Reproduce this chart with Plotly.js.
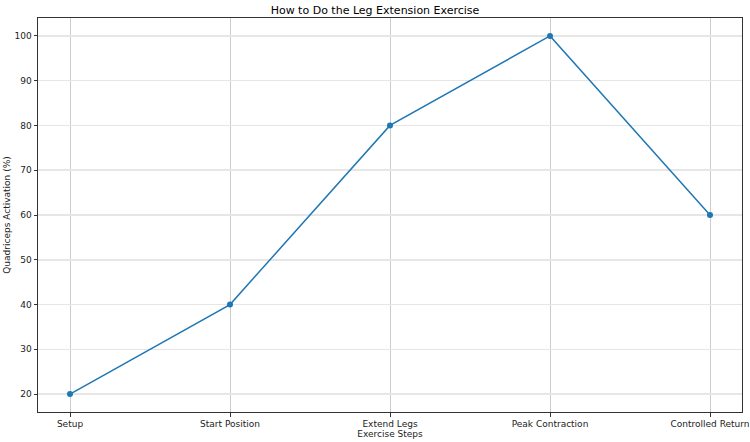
<!DOCTYPE html>
<html>
<head>
<meta charset="utf-8">
<script src="https://cdn.plot.ly/plotly-3.0.1.min.js"></script>
<style>
  html, body { margin: 0; padding: 0; background: white; }
  #myDiv { width: 750px; height: 442px; }
</style>
</head>
<body>
<div id="myDiv"></div>
<script>
// exercise steps and activation values
const steps = ["Setup", "Start Position", "Extend Legs", "Peak Contraction", "Controlled Return"];
const activation = [20, 40, 80, 100, 60];
const yTicks = [20, 30, 40, 50, 60, 70, 80, 90, 100];

const trace = {
    type: "scatter",
    mode: "lines+markers",
    x: steps.map((s, i) => i),
    y: activation,
    line: { color: "#1f77b4", width: 1.5 },
    marker: { color: "#1f77b4", size: 6 },
    hoverinfo: "none",
};

// vertical grid a bit darker than the horizontal one, like the original
const layout = {
    width: 750,
    height: 442,
    margin: { l: 38, r: 8, t: 18, b: 30 },
    paper_bgcolor: "white",
    plot_bgcolor: "white",
    font: { family: "DejaVu Sans", size: 9, color: "#222" },
    showlegend: false,
    title: {
        text: "How to Do the Leg Extension Exercise",
        font: { family: "DejaVu Sans", size: 11, color: "#000" },
        x: 0.5,
        xanchor: "center",
        y: 0.977,
        yanchor: "middle",
    },
    xaxis: {
        range: [-0.2, 4.2],
        tickvals: [0, 1, 2, 3, 4],
        ticktext: steps,
        showgrid: true,
        gridcolor: "#cccccc",
        gridwidth: 1,
        zeroline: false,
        showline: true,
        linecolor: "#333",
        linewidth: 1,
        mirror: true,
        ticks: "outside",
        ticklen: 3.5,
        tickcolor: "#333",
        tickfont: { family: "DejaVu Sans", size: 9, color: "#222" },
        title: {
            text: "Exercise Steps",
            font: { family: "DejaVu Sans", size: 9, color: "#222" },
            standoff: 1,
        },
    },
    yaxis: {
        range: [16, 104],
        tickvals: yTicks,
        showgrid: true,
        gridcolor: "#e6e6e6",
        gridwidth: 1.5,
        zeroline: false,
        showline: true,
        linecolor: "#333",
        linewidth: 1,
        mirror: true,
        ticks: "outside",
        ticklen: 3.5,
        tickcolor: "#333",
        tickfont: { family: "DejaVu Sans", size: 9, color: "#222" },
        title: {
            text: "Quadriceps Activation (%)",
            font: { family: "DejaVu Sans", size: 9, color: "#222" },
            standoff: 2,
        },
    },
};

Plotly.newPlot("myDiv", [trace], layout, { displayModeBar: false, staticPlot: true });
</script>
</body>
</html>
